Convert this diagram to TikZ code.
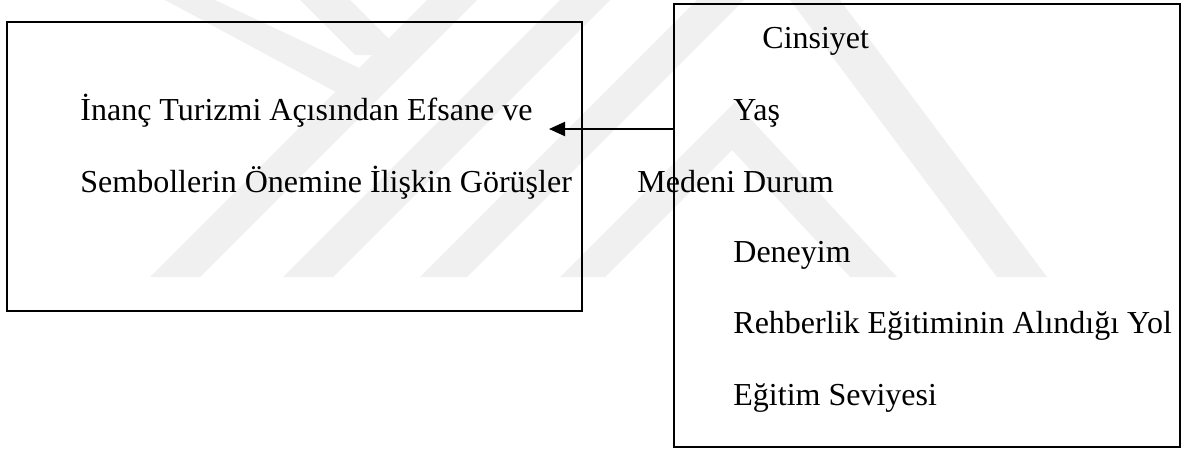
\documentclass[tikz,border=0pt]{standalone}
\usepackage{fontspec}
\setmainfont{Liberation Serif}
\usetikzlibrary{arrows.meta}
\begin{document}
\begin{tikzpicture}[x=0.5pt,y=-0.5pt,
	every node/.style={inner sep=0pt,anchor=base west,font=\fontsize{16}{19}\selectfont},
	kutu/.style={draw,line width=0.8pt,rectangle,anchor=center},
	iz/.style={fill=black!6,draw=none},
	ok/.style={-{Triangle[length=8pt,width=7pt]},line width=1pt}]
\useasboundingbox (0,0) rectangle (1181,450);
\fill[iz] (150,277) -- (200,277) -- (477,0) -- (427,0) -- cycle;
\fill[iz] (300,0) -- (350,0) -- (405,55) -- (355,55) -- cycle;
\fill[iz] (165,0) -- (215,0) -- (385,80) -- (360,105) -- cycle;
\fill[iz] (283,277) -- (333,277) -- (610,0) -- (560,0) -- cycle;
\fill[iz] (420,277) -- (467,277) -- (744,0) -- (697,0) -- cycle;
\fill[iz] (790,0) -- (840,0) -- (1047,277) -- (997,277) -- cycle;
\fill[iz] (560,277) -- (735,102) -- (897,277) -- (850,277) -- (732,150) -- (605,277) -- cycle;
\node[kutu,minimum width=287.5pt,minimum height=144.5pt] (gorus) at (294.5,166.5) {};
\node[kutu,minimum width=253pt,minimum height=221.5pt] (degisken) at (927,225.5) {};
\node (inanc1) at (80,120) {İnanç Turizmi Açısından Efsane ve};
\node (inanc2) at (80,192) {Sembollerin Önemine İlişkin Görüşler};
\node (cinsiyet) at (762,48) {Cinsiyet};
\node (yas) at (733,120) {Yaş};
\node (medeni) at (637,192) {Medeni Durum};
\node (deneyim) at (733,262) {Deneyim};
\node (rehberlik) at (733,333) {Rehberlik Eğitiminin Alındığı Yol};
\node (egitim) at (733,405) {Eğitim Seviyesi};
\coordinate (ucu) at (549,129);
\draw[ok] (degisken.west |- ucu) -- (ucu);
\end{tikzpicture}
\end{document}
